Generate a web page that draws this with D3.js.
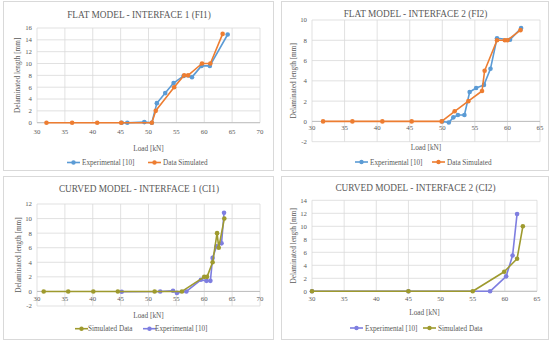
<!DOCTYPE html>
<html><head><meta charset="utf-8">
<script src="https://cdn.jsdelivr.net/npm/d3@7"></script>
<style>body{margin:0;background:#fff}svg{display:block}text{font-family:"Liberation Serif","Times New Roman",serif;fill:#595959}</style>
</head><body><svg id="c" width="550" height="342"></svg>
<script>
// ---- data ----
const fi1Exp = [[45.2,0],[46.2,0],[49.25,0.1],[50.6,0],[51.5,3.3],[53.0,5.0],[54.5,6.7],[56.3,7.9],[57.8,7.7],[59.5,9.6],[61.0,9.6],[64.2,14.9]];
const fi1Sim = [[31.7,0],[36.3,0],[40.8,0],[45.1,0],[50.6,0],[51.3,2.0],[54.6,6.0],[56.4,8.0],[57.1,8.0],[59.6,10.0],[61.1,10.0],[63.3,15.0]];
const fi2Exp = [[50.0,0],[51.0,-0.1],[51.7,0.4],[52.4,0.63],[53.4,0.63],[54.2,2.9],[55.2,3.3],[56.4,3.6],[57.4,5.2],[58.4,8.2],[60.4,8.05],[62.1,9.2]];
const fi2Sim = [[31.7,0],[36.2,0],[40.8,0],[45.3,0],[49.9,0],[51.9,1.0],[54.0,2.0],[56.1,3.0],[56.5,5.0],[58.4,8.0],[59.6,8.0],[60.0,8.0],[62.0,9.0]];
const ci1Sim = [[31.2,0],[35.6,0],[40.1,0],[44.5,0],[51.1,0],[56.0,0],[60.0,2.0],[60.5,2.0],[61.5,4.0],[62.3,8.0],[62.6,6.0],[63.6,10.0]];
const ci1Exp = [[45.2,-0.05],[52.1,0],[54.4,0.1],[55.1,-0.2],[56.8,0],[59.4,1.6],[60.4,1.45],[61.1,1.45],[61.5,4.6],[62.2,6.2],[63.1,6.6],[63.55,10.8]];
const ci2Exp = [[30,0],[45,0],[57.7,0],[60.2,2.3],[61.2,5.5],[61.9,11.9]];
const ci2Sim = [[30,0],[45,0],[55,0],[59.9,3.0],[61.9,5.0],[62.8,10.0]];

const titles = ["FLAT MODEL - INTERFACE 1 (FI1)","FLAT MODEL - INTERFACE 2 (FI2)","CURVED MODEL - INTERFACE 1 (CI1)","CURVED MODEL - INTERFACE 2 (CI2)"];
const xLabel = "Load [kN]";
const yLabel = "Delaminated length [mm]";
const labExp = "Experimental [10]";
const labSimA = "Data Simulated";
const labSimB = "Simulated Data";

const BLUE="#5B9BD5", ORANGE="#ED7D31", OLIVE="#9E9A2E", PURPLE="#7E7EE0";

const panels = [
  {box:[3,1,270,169], plot:[37,260,28,122.7], xd:[30,70], yd:[0,16], yt:d3.range(0,17,2), xt:d3.range(30,71,5), title:titles[0], ty:15, xly:148.5, ldy:162.5, yly:17, xtOff:9.3,
   series:[{d:fi1Exp,c:BLUE,n:labExp},{d:fi1Sim,c:ORANGE,n:labSimA}], leg:[[67,82],[148,163]]},
  {box:[281,1,267,169], plot:[312,540,20,141.7], xd:[30,65], yd:[-2,10], yt:d3.range(-2,11,2), xt:d3.range(30,66,5), title:titles[1], ty:14, xly:147.5, ldy:162, yly:293, xtOff:6.5,
   series:[{d:fi2Exp,c:BLUE,n:labExp},{d:fi2Sim,c:ORANGE,n:labSimA}], leg:[[355,370],[432,447]]},
  {box:[3,176,270,163], plot:[37,260,204,306], xd:[30,70], yd:[-2,12], yt:d3.range(-2,13,2), xt:d3.range(30,71,5), title:titles[2], ty:189, xly:315, ldy:328.7, yly:18, xtOff:7,
   series:[{d:ci1Exp,c:PURPLE,n:labExp},{d:ci1Sim,c:OLIVE,n:labSimB}], leg:[[143,155],[75,88]]},
  {box:[281,176,267,163], plot:[312,537,200.3,291.3], xd:[30,65], yd:[0,14], yt:d3.range(0,15,2), xt:d3.range(30,66,5), title:titles[3], ty:188, xly:312, ldy:328, yly:293, xtOff:7.4,
   series:[{d:ci2Exp,c:PURPLE,n:labExp},{d:ci2Sim,c:OLIVE,n:labSimB}], leg:[[350,365],[423,438]]}
];

const svg = d3.select("#c");
panels.forEach(p=>{
  const g = svg.append("g");
  g.append("rect").attr("x",p.box[0]+0.5).attr("y",p.box[1]+0.5).attr("width",p.box[2]).attr("height",p.box[3])
    .attr("fill","#fff").attr("stroke","#d9d9d9").attr("stroke-width",1);
  const x = d3.scaleLinear().domain(p.xd).range([p.plot[0],p.plot[1]]);
  const y = d3.scaleLinear().domain(p.yd).range([p.plot[3],p.plot[2]]);
  g.append("g").selectAll("line").data(p.yt).join("line")
    .attr("x1",p.plot[0]).attr("x2",p.plot[1]).attr("y1",d=>y(d)).attr("y2",d=>y(d))
    .attr("stroke","#d9d9d9").attr("stroke-width",0.8);
  g.append("g").selectAll("line").data(p.xt).join("line")
    .attr("x1",d=>x(d)).attr("x2",d=>x(d)).attr("y1",p.plot[2]).attr("y2",p.plot[3])
    .attr("stroke","#d9d9d9").attr("stroke-width",0.8);
  g.append("line").attr("x1",p.plot[0]).attr("x2",p.plot[1]).attr("y1",y(0)).attr("y2",y(0))
    .attr("stroke","#bfbfbf").attr("stroke-width",1);
  g.append("g").selectAll("text").data(p.yt).join("text")
    .attr("x",p.plot[0]-5).attr("y",d=>y(d)).attr("dy","0.35em").attr("text-anchor","end")
    .attr("font-size",6.8).text(d=>d);
  g.append("g").selectAll("text").data(p.xt).join("text")
    .attr("x",d=>x(d)).attr("y",y(0)+p.xtOff).attr("dy","0.35em").attr("text-anchor","middle")
    .attr("font-size",6.8).text(d=>d);
  g.append("text").attr("x",(p.box[0]+p.box[0]+p.box[2])/2+1).attr("y",p.ty).attr("dy","0.35em")
    .attr("text-anchor","middle").attr("font-size",9.3).text(p.title);
  g.append("text").attr("x",(p.plot[0]+p.plot[1])/2).attr("y",p.xly).attr("dy","0.35em")
    .attr("text-anchor","middle").attr("font-size",7.3).text(xLabel);
  g.append("text").attr("transform",`translate(${p.yly},${(p.plot[2]+p.plot[3])/2}) rotate(-90)`)
    .attr("dy","0.35em").attr("text-anchor","middle").attr("font-size",7.3).text(yLabel);
  const line = d3.line().x(d=>x(d[0])).y(d=>y(d[1]));
  p.series.forEach((s,i)=>{
    g.append("path").datum(s.d).attr("d",line).attr("fill","none").attr("stroke",s.c).attr("stroke-width",1.6).attr("stroke-linejoin","round");
    g.append("g").selectAll("circle").data(s.d).join("circle")
      .attr("cx",d=>x(d[0])).attr("cy",d=>y(d[1])).attr("r",2.3).attr("fill",s.c);
    const lx = p.leg[i][0], tx = p.leg[i][1];
    g.append("line").attr("x1",lx).attr("x2",lx+13).attr("y1",p.ldy).attr("y2",p.ldy).attr("stroke",s.c).attr("stroke-width",1.6);
    g.append("circle").attr("cx",lx+6.5).attr("cy",p.ldy).attr("r",2.2).attr("fill",s.c);
    g.append("text").attr("x",tx).attr("y",p.ldy).attr("dy","0.35em").attr("font-size",7.2).text(s.n);
  });
});
</script></body></html>
